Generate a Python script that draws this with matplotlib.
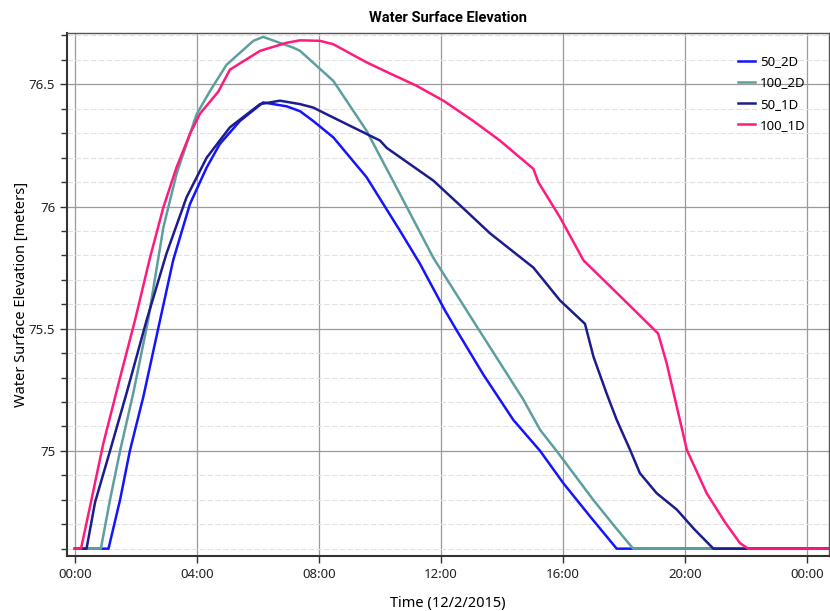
import matplotlib
matplotlib.use("Agg")
import matplotlib.pyplot as plt
from matplotlib.ticker import MultipleLocator, FuncFormatter

# time in hours after 12/2/2015 00:00, water surface elevation in meters
t_50_2d = [0.0, 1.1, 1.48, 1.80, 2.24, 2.79, 3.22, 3.77, 4.32, 4.75, 5.41, 6.17, 6.94, 7.38,
           7.81, 8.47, 9.56, 10.66, 11.31, 12.13, 12.51, 13.4, 14.37, 15.25, 16.01, 16.9,
           17.76, 24.72]
v_50_2d = [74.6, 74.6, 74.8, 75.0, 75.22, 75.535, 75.78, 76.01, 76.16, 76.256, 76.35,
           76.426, 76.41, 76.39, 76.35, 76.283, 76.12, 75.90, 75.766, 75.575, 75.494, 75.31,
           75.127, 75.0, 74.868, 74.73, 74.6, 74.6]

t_100_2d = [0.0, 0.85, 1.15, 1.48, 1.91, 2.40, 2.90, 3.33, 3.99, 4.43, 4.97, 5.85, 6.17, 7.16,
            7.38, 8.47, 9.56, 10.66, 11.75, 12.84, 13.22, 14.7, 15.25, 15.79, 16.99, 17.7,
            18.3, 24.72]
v_100_2d = [74.6, 74.6, 74.80, 75.0, 75.235, 75.535, 75.915, 76.133, 76.378, 76.473, 76.58,
            76.678, 76.694, 76.65, 76.637, 76.514, 76.31, 76.05, 75.79, 75.575, 75.50, 75.21,
            75.086, 75.0, 74.80, 74.69, 74.6, 74.6]

t_50_1d = [0.0, 0.38, 0.66, 1.15, 1.69, 2.35, 3.0, 3.66, 4.32, 5.08, 6.07, 6.72, 7.38, 7.81,
           8.47, 10.0, 10.22, 11.75, 12.84, 13.61, 15.03, 15.9, 16.72, 17.0, 17.43, 17.76,
           18.2, 18.52, 19.07, 19.73, 20.3, 20.93, 24.72]
v_50_1d = [74.6, 74.6, 74.79, 75.0, 75.235, 75.535, 75.807, 76.038, 76.20, 76.324, 76.419,
           76.433, 76.419, 76.405, 76.364, 76.27, 76.24, 76.106, 75.98, 75.89, 75.75, 75.616,
           75.52, 75.385, 75.235, 75.127, 75.004, 74.909, 74.827, 74.76, 74.68, 74.6, 74.6]

t_100_1d = [0.0, 0.2, 0.49, 0.93, 1.48, 1.97, 2.46, 2.90, 3.33, 3.77, 4.10, 4.70, 5.08, 6.07,
            6.94, 7.38, 8.03, 8.47, 9.56, 10.27, 11.2, 12.08, 13.06, 13.93, 15.03, 15.19, 15.9,
            16.67, 17.9, 19.12, 19.4, 20.06, 20.71, 21.3, 21.8, 22.07, 24.72]
v_100_1d = [74.6, 74.6, 74.77, 75.03, 75.30, 75.535, 75.79, 75.997, 76.16, 76.297, 76.38,
            76.47, 76.56, 76.637, 76.67, 76.68, 76.678, 76.664, 76.59, 76.548, 76.494,
            76.433, 76.35, 76.27, 76.154, 76.10, 75.956, 75.78, 75.63, 75.48, 75.358, 75.004,
            74.827, 74.71, 74.623, 74.6, 74.6]

series = [
    ("50_2D", t_50_2d, v_50_2d, "#1414ff"),
    ("100_2D", t_100_2d, v_100_2d, "#5f9e9e"),
    ("50_1D", t_50_1d, v_50_1d, "#1c1c8c"),
    ("100_1D", t_100_1d, v_100_1d, "#ff1a7d"),
]

plt.rcParams['font.family'] = ['Noto Sans', 'DejaVu Sans']

fig = plt.figure(figsize=(8.3, 6.11), dpi=100)
ax = fig.add_axes([67 / 830, 1 - 556 / 611, 762 / 830, 523 / 611])

for name, t, v, c in series:
    ax.plot(t, v, color=c, lw=1.8, label=name, solid_joinstyle='round')

ax.set_xlim(-0.26, 24.72)
ax.set_ylim(74.57, 76.71)

ax.xaxis.set_major_locator(MultipleLocator(4))
ax.xaxis.set_major_formatter(FuncFormatter(lambda x, p: "%02d:00" % (int(round(x)) % 24)))
ax.yaxis.set_major_locator(MultipleLocator(0.5))
ax.yaxis.set_minor_locator(MultipleLocator(0.1))
ax.yaxis.set_major_formatter(FuncFormatter(lambda y, p: ("%g" % round(y, 2))))

ax.grid(True, which='major', color='#9a9a9a', lw=0.9)
ax.grid(True, which='minor', axis='y', color='#e2e2e2', lw=0.8, ls=(0, (5, 2)))

ax.tick_params(axis='both', which='major', length=5, width=1, labelsize=9.5, color='#333333',
               labelcolor='#222222')
ax.tick_params(axis='y', which='minor', length=4, width=1, color='#333333')
for s in ['left', 'bottom']:
    ax.spines[s].set_linewidth(1.5)
    ax.spines[s].set_color('#333333')
for s in ['top', 'right']:
    ax.spines[s].set_linewidth(1.0)
    ax.spines[s].set_color('#555555')

ax.set_title("Water Surface Elevation", fontsize=10.5, fontweight='bold', pad=8,
             family=['Roboto', 'DejaVu Sans'])
ax.set_xlabel("Time (12/2/2015)", fontsize=10.5, labelpad=11)
ax.set_ylabel("Water Surface Elevation [meters]", fontsize=10.5, labelpad=0)

ax.legend(loc='upper right', bbox_to_anchor=(0.985, 0.98), frameon=False, fontsize=9.5,
          handlelength=1.3, handletextpad=0.4, labelspacing=0.62)

fig.savefig("out.png", dpi=100)
